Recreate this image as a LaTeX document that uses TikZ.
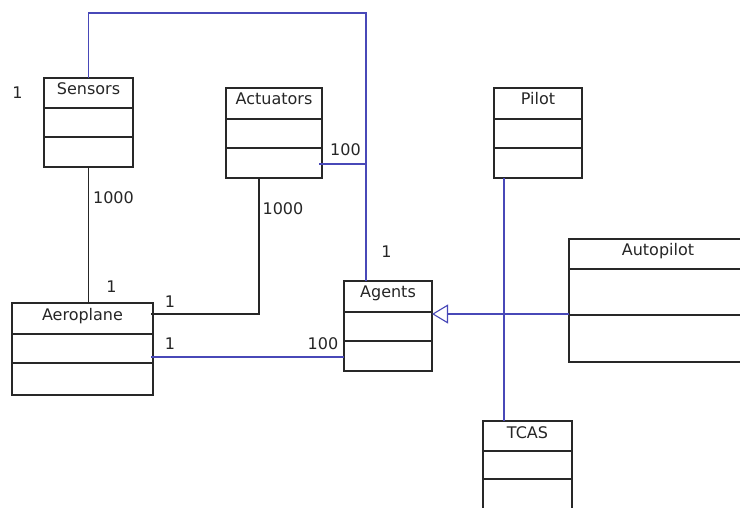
\documentclass[tikz,border=0pt]{standalone}
\usepackage{fontspec}
\setmainfont{DejaVu Sans}
\usetikzlibrary{arrows.meta,calc}
\definecolor{assocblue}{RGB}{72,72,184}
\definecolor{boxline}{RGB}{40,40,40}
\newcommand\umlclass[8]{%
  \pgfmathsetmacro\ucw{#4-#2}\pgfmathsetmacro\uch{#5-#3}%
  \node[classbox, minimum width=\ucw pt, minimum height=\uch pt, anchor=north west] (#1) at (#2,#3) {};
  \draw[divider] (#2,#6) -- (#4,#6);
  \draw[divider] (#2,#7) -- (#4,#7);
  \node[classtitle] (#1-title) at ({(#2+#4)/2},#3+17) {#8};
}
\begin{document}
\begin{tikzpicture}[x=1pt,y=-1pt,
  font=\fontsize{16}{19}\selectfont,
  classbox/.style={draw=boxline, line width=1.4pt, inner sep=0pt, outer sep=0pt, rectangle},
  divider/.style={draw=boxline, line width=1.4pt},
  classtitle/.style={anchor=base, inner sep=0pt, text=black!85},
  assoc/.style={draw=assocblue, line width=1.1pt},
  plain/.style={draw=black!85, line width=1.3pt},
  mult/.style={anchor=base, inner sep=0pt, text=black!85}]

\useasboundingbox[fill=white] (0,0) rectangle (740,508);

\umlclass{sens}{44}{78}{133}{167}{108}{137}{Sensors}
\umlclass{act}{226}{88}{322}{178}{119}{148}{Actuators}
\umlclass{aero}{12}{303}{153}{395}{334}{363}{Aeroplane}
\umlclass{agents}{344}{281}{432}{371}{312}{341}{Agents}
\umlclass{pilot}{494}{88}{582}{178}{119}{148}{Pilot}
\umlclass{auto}{569}{239}{747}{362}{269}{315}{Autopilot}
\umlclass{tcas}{483}{421}{572}{520}{451}{479}{TCAS}

% Sensors -- Agents (blue, over the top)
\coordinate (bendtop) at (366,13);
\draw[assoc] (sens.north) |- (bendtop) -- (bendtop |- agents.north);
% Actuators joins that line
\coordinate (actjoin) at ($(act.east)+(-3,31)$);
\draw[assoc] (actjoin) -- (actjoin -| bendtop);

% Sensors -- Aeroplane
\draw[plain] (sens.south) -- (sens.south |- aero.north);
% Actuators -- Aeroplane
\coordinate (actdrop) at ($(act.south)+(-15,0)$);
\coordinate (aeroA) at ($(aero.east)+(-2,-35)$);
\draw[plain] (actdrop) |- (aeroA);
% Aeroplane -- Agents
\coordinate (aeroB) at ($(aero.east)+(-2,8)$);
\draw[assoc] (aeroB) -- (aeroB -| agents.west);
% Pilot -- TCAS
\coordinate (pilotdrop) at ($(pilot.south)+(-34,0)$);
\draw[assoc] (pilotdrop) -- (pilotdrop |- tcas.north);
% Autopilot generalises Agents
\coordinate (autoB) at ($(auto.west)+(0,13.5)$);
\draw[assoc, -{Triangle[open, length=16pt, width=19pt]}] (autoB) -- (autoB -| agents.east);

% multiplicities
\node[mult] (m1) at (17.5,99) {1};
\node[mult] (m2) at (345.5,156) {100};
\node[mult] (m3) at (113.5,204) {1000};
\node[mult] (m4) at (283,215) {1000};
\node[mult] (m5) at (386.5,258) {1};
\node[mult] (m6) at (111.5,293) {1};
\node[mult] (m7) at (170,307) {1};
\node[mult] (m8) at (170,349) {1};
\node[mult] (m9) at (323,349) {100};
\end{tikzpicture}
\end{document}
